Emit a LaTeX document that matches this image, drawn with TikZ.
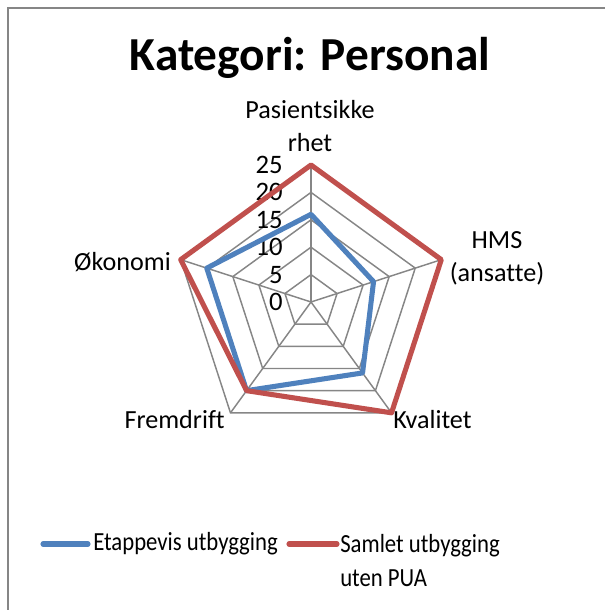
\documentclass[tikz,border=0pt]{standalone}
\usepackage{fontspec}
\setmainfont{Carlito}[Ligatures=NoCommon]
\usepackage{xcolor}
\usepackage{graphicx}
\usetikzlibrary{positioning, calc}

\definecolor{serieblue}{HTML}{4F81BD}
\definecolor{seriered}{HTML}{C0504D}
\definecolor{webgray}{HTML}{868686}
\newcommand{\narrowtext}[1]{\scalebox{0.87}[1]{#1}}

\begin{document}
\begin{tikzpicture}[x=0.75pt, y=0.75pt,
  webline/.style={draw=webgray, line width=1.1pt},
  serie/.style={line width=3.8pt, line join=round},
  axislabel/.style={font=\fontsize{19.6}{24.75}\selectfont, inner sep=0pt, align=center},
  legendtext/.style={font=\fontsize{19.6}{25.5}\selectfont, inner sep=0pt, align=left, anchor=west},
  ticklabel/.style={font=\fontsize{20}{22}\selectfont, anchor=east, inner sep=0pt}]
  \useasboundingbox (0,0) rectangle (605,610);
  % Frame
  \draw[webgray, line width=1.5pt] (7.5,0) -- (7.5,602) -- (605,602);
  % Title
  \node[font=\fontsize{35.5}{40}\selectfont\bfseries] (title) at (310,552) {Kategori: Personal};
  % Radar chart
  \begin{scope}[shift={(311,308)}]
    \foreach \r in {5,10,...,25}
      \draw[webline] (90:\r*5.48) \foreach \a in {18,-54,-126,162}{-- (\a:\r*5.48)} -- cycle;
    \foreach \a in {90,18,-54,-126,162}
      \draw[webline] (0,0) -- (\a:137);
    \foreach \t in {0,5,...,25}
      \node[ticklabel] (t\t) at (-28,\t*5.48) {\t};
    % Series
    \foreach \v [count=\i from 0] in {16,12,16,20,20}
      \coordinate (b\i) at (90-72*\i:\v*5.48);
    \foreach \v [count=\i from 0] in {25,25,25,20,25}
      \coordinate (r\i) at (90-72*\i:\v*5.48);
    \draw[serie, serieblue] (b0) -- (b1) -- (b2) -- (b3) -- (b4) -- cycle;
    \draw[serie, seriered] (r0) -- (r1) -- (r2) -- (r3) -- (r4) -- cycle;
  \end{scope}
  % Axis labels
  \node[axislabel] (pas) at (310,484) {Pasientsikke\\rhet};
  \node[axislabel] (hms) at (497,352) {HMS\\(ansatte)};
  \node[axislabel, anchor=west] (kva) at (393,190) {Kvalitet};
  \node[axislabel, anchor=east] (frem) at (225,190) {Fremdrift};
  \node[axislabel, anchor=east] (oko) at (171,348) {Økonomi};
  % Legend
  \node[legendtext] (leg1) at (93,66) {\narrowtext{Etappevis utbygging}};
  \node[legendtext] (leg2) at (340,49) {\narrowtext{Samlet utbygging}\\\narrowtext{uten PUA}};
  \draw[serie, serieblue, line cap=round] ($(leg1.west)+(-50,0)$) -- ($(leg1.west)+(-5,0)$);
  \draw[serie, seriered, line cap=round] ($(leg2.west)+(-51,17)$) -- ($(leg2.west)+(-3,17)$);
\end{tikzpicture}
\end{document}
